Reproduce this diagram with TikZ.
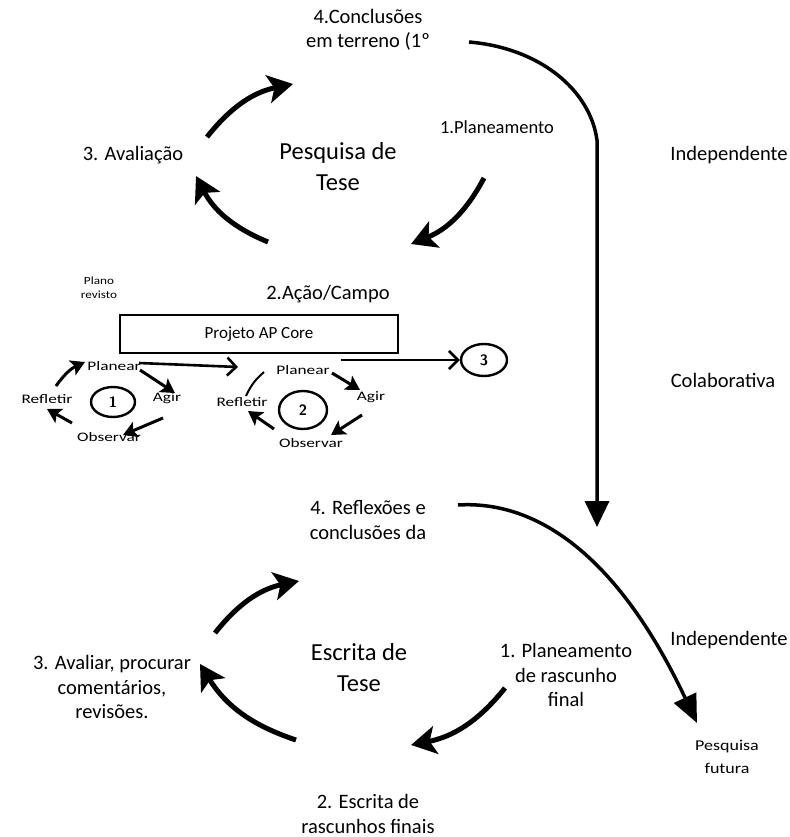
\documentclass[tikz,border=0pt]{standalone}
\usepackage{fontspec}
\setmainfont{Carlito}
\newfontfamily\widefont[FakeStretch=1.33]{Carlito}
\newfontfamily\semiwide[FakeStretch=1.2]{Carlito}
\usetikzlibrary{arrows.meta,shapes.geometric}
\begin{document}
\begin{tikzpicture}[x=1pt,y=-1pt,
  lbl/.style={align=center,inner sep=0pt,font=\fontsize{20.5}{24.5}\selectfont},
  big/.style={align=center,inner sep=0pt,font=\fontsize{24.5}{31}\selectfont},
  sml/.style={inner sep=0pt,font=\widefont\fontsize{13}{14}\selectfont},
  tiny/.style={align=center,inner sep=0pt,font=\semiwide\fontsize{11}{14}\selectfont},
  cyc/.style={line width=5pt,-{Stealth[length=25pt,width=28pt,inset=6pt]}},
  scyc/.style={line width=3pt,-{Stealth[length=14pt,width=16pt,inset=3pt]}},
  barb/.style={line width=2.6pt,-{Straight Barb[length=9pt,width=18pt]}},
  num/.style={ellipse,draw,line width=2.4pt,inner sep=0pt,font=\fontsize{15}{15}\selectfont\bfseries\sffamily}]
\useasboundingbox (0,0) rectangle (789,837);
% top cycle
\node[lbl] (c4) at (368,30) {4.Conclusões\\em terreno (1º};
\node[lbl,font=\fontsize{18.5}{22}\selectfont] (c1) at (497,127) {1.Planeamento};
\node[lbl] (c3) at (133,155) {3. Avaliação};
\node[big] (pt) at (338,167) {Pesquisa de\\Tese};
\node[lbl] (ind1) at (729,155) {Independente};
\node[tiny] (pr) at (99,288) {Plano\\revisto};
\node[lbl] (c2) at (328,294) {2.Ação/Campo};
\coordinate (t1a) at (207,137); \coordinate (t1b) at (293,84);
\coordinate (t2a) at (268,242); \coordinate (t2b) at (196,176);
\coordinate (t3a) at (484,178); \coordinate (t3b) at (411,244);
\draw[cyc] (t1a) to[bend left=20] (t1b);
\draw[cyc] (t2a) to[bend left=20] (t2b);
\draw[cyc] (t3a) to[bend left=20] (t3b);
% big connector top
\coordinate (bc1) at (469,42); \coordinate (bc2) at (597,140); \coordinate (bc3) at (597,527);
\draw[line width=3.5pt,-{Stealth[length=26pt,width=24pt,inset=0pt]}] (bc1) .. controls (540,48) and (590,90) .. (bc2) -- (bc3);
% box
\node[draw,line width=1.3pt,minimum width=278pt,minimum height=38pt,inner sep=0pt,font=\fontsize{17}{18}\selectfont] (core) at (259,334) {Projeto AP Core};
% cycle 1
\node[sml] (p1) at (114,366) {Planear};
\node[sml] (a1) at (167,398) {Agir};
\node[sml] (o1) at (109,437) {Observar};
\node[sml] (r1) at (47,399) {Refletir};
\node[num,minimum width=44pt,minimum height=30pt] (n1) at (113,402) {1};
\draw[scyc] (56,386) to[bend left=15] (85,362);
\draw[scyc] (140,370) -- (175,393);
\draw[scyc] (163,418) -- (123,435);
\draw[scyc] (72,423) -- (47,409);
% cycle 2
\node[sml] (p2) at (303,370) {Planear};
\node[sml] (a2) at (371,397) {Agir};
\node[sml] (o2) at (311,443) {Observar};
\node[sml] (r2) at (242,402) {Refletir};
\node[num,minimum width=48pt,minimum height=38pt] (n2) at (303,410) {2};
\draw[line width=2pt] (264,372) to[bend right=12] (246,396);
\draw[scyc] (332,373) -- (360,390);
\draw[scyc] (362,415) -- (331,435);
\draw[scyc] (274,429) -- (248,411);
\node[num,minimum width=46pt,minimum height=32pt] (n3) at (484,360) {3};
\coordinate (s1) at (139,363);
\coordinate (s2) at (238,367);
\draw[barb] (s1) -- (s2);
\coordinate (s3) at (341,360);
\draw[barb] (s3) -- (n3.west);
\node[lbl] (colab) at (723,380) {Colaborativa};
% bottom cycle
\node[lbl] (d4) at (368,520) {4. Reflexões e\\conclusões da};
\node[lbl] (d3) at (112,687) {3. Avaliar, procurar\\comentários,\\revisões.};
\node[big] (et) at (359,668) {Escrita de\\Tese};
\node[lbl] (d1) at (566,675) {1. Planeamento\\de rascunho\\final};
\node[lbl] (ind2) at (729,640) {Independente};
\node[lbl,font=\semiwide\fontsize{15}{23}\selectfont] (pf) at (727,757) {Pesquisa\\futura};
\node[lbl] (d2) at (368,814) {2. Escrita de\\rascunhos finais};
\draw[cyc] (215,633) to[bend left=20] (299,581);
\draw[cyc] (296,740) to[bend left=20] (200,664);
\draw[cyc] (505,688) to[bend left=20] (411,745);
\coordinate (fc1) at (458,505); \coordinate (fc2) at (697,723);
\draw[line width=3.5pt,-{Stealth[length=28pt,width=24pt,inset=0pt]}] (fc1) .. controls (540,500) and (620,560) .. (fc2);
\end{tikzpicture}
\end{document}
